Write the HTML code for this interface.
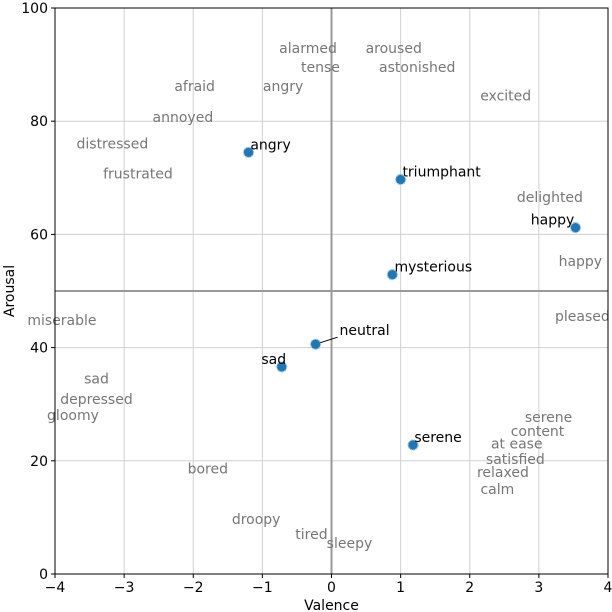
<!DOCTYPE html>
<html><head><meta charset="utf-8"><style>body{margin:0;background:#fff}svg{display:block}text{font-family:"DejaVu Sans","Liberation Sans",sans-serif}</style></head>
<body>
<svg id="c" width="612" height="612"></svg>
<script>
const pointLabels=["angry","triumphant","happy","mysterious","neutral","sad","serene"];
const pointX=[-1.2,1.0,3.53,0.88,-0.23,-0.72,1.18];
const pointY=[74.5,69.7,61.2,52.9,40.6,36.6,22.8];
const refWords=["alarmed","aroused","tense","astonished","afraid","angry","excited","annoyed","distressed","frustrated","delighted","happy","miserable","pleased","sad","depressed","gloomy","serene","content","at ease","satisfied","relaxed","calm","bored","droopy","tired","sleepy"];
const refX=[-0.34,0.9,-0.16,1.24,-1.98,-0.7,2.52,-2.15,-3.17,-2.8,3.16,3.6,-3.9,3.63,-3.4,-3.4,-3.74,3.14,2.98,2.68,2.66,2.48,2.4,-1.79,-1.09,-0.29,0.26];
const refY=[92.9,92.9,89.6,89.6,86.2,86.2,84.5,80.7,76.1,70.8,66.6,55.3,44.9,45.6,34.5,30.9,28.1,27.7,25.3,23.1,20.3,18.0,15.0,18.6,9.7,7.1,5.5];
const xTicks=[-4,-3,-2,-1,0,1,2,3,4];
const yTicks=[0,20,40,60,80,100];
const L=55,R=608,T=8,B=574;
const sx=v=>L+(v+4)/8*(R-L), sy=v=>B-v/100*(B-T);
const svg=document.getElementById('c');const NS='http://www.w3.org/2000/svg';
function mk(t,a,p){const e=document.createElementNS(NS,t);for(const k in a)e.setAttribute(k,a[k]);(p||svg).appendChild(e);return e;}
xTicks.forEach(t=>{const g=mk('line',{x1:sx(t),x2:sx(t),y1:T,y2:B,stroke:'#d0d0d0','stroke-width':1});


mk('line',{x1:sx(t),x2:sx(t),y1:B,y2:B+4,stroke:'#000'});
const tx=mk('text',{x:sx(t),y:B+18,'text-anchor':'middle','font-size':14});tx.textContent=(t<0?'\u2212'+(-t):t);

});
yTicks.forEach(t=>{const g=mk('line',{x1:L,x2:R,y1:sy(t),y2:sy(t),stroke:'#d0d0d0','stroke-width':1});


mk('line',{x1:L-4,x2:L,y1:sy(t),y2:sy(t),stroke:'#000'});
const tx=mk('text',{x:L-7,y:sy(t)+5,'text-anchor':'end','font-size':14});tx.textContent=t;

});
mk('line',{x1:sx(0),x2:sx(0),y1:T,y2:B,stroke:'#999','stroke-width':2});
mk('line',{x1:L,x2:R,y1:sy(50),y2:sy(50),stroke:'#999','stroke-width':2});
refWords.forEach((w,i)=>{const t=mk('text',{x:sx(refX[i]),y:sy(refY[i])+5,'text-anchor':'middle','font-size':14,fill:'#777'});t.textContent=w;

});
const off=[[22,-3],[41,-3],[-23,-3],[41,-3],[49,-9],[-8,-3],[25,-3]];
pointLabels.forEach((w,i)=>{const x=sx(pointX[i]),y=sy(pointY[i]);
if(w==='neutral')mk('line',{x1:x,y1:y,x2:x+22,y2:y-7,stroke:'#000'});
const c=mk('circle',{cx:x,cy:y,r:5,fill:'#1f77b4',stroke:'#9cc3e6','stroke-width':1.2,'stroke-dasharray':'2 1'});


const t=mk('text',{x:x+off[i][0],y:y+off[i][1],'text-anchor':'middle','font-size':14,fill:'#000'});t.textContent=w;

});
mk('rect',{x:L,y:T,width:R-L,height:B-T,fill:'none',stroke:'#000','stroke-width':1});
const xl=mk('text',{x:(L+R)/2,y:610,'text-anchor':'middle','font-size':14});xl.textContent='Valence';


const yl=mk('text',{x:14,y:(T+B)/2,'text-anchor':'middle','font-size':14,transform:`rotate(-90 14 ${(T+B)/2})`});yl.textContent='Arousal';


</script>
</body></html>
